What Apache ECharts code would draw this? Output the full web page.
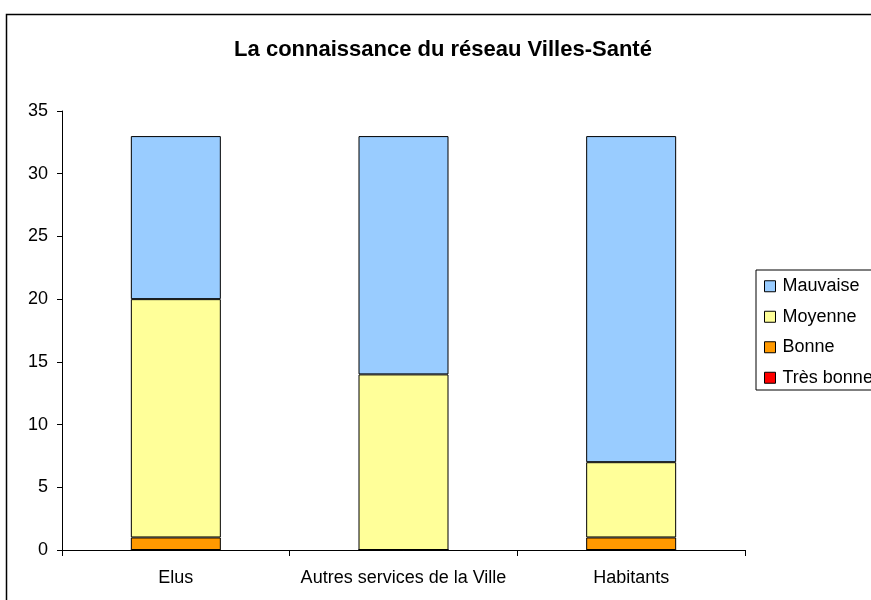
<!DOCTYPE html>
<html><head><meta charset="utf-8">
<script src="https://cdn.jsdelivr.net/npm/echarts@6/dist/echarts.min.js"></script>
<style>html,body{margin:0;padding:0;background:#fff}#c{width:871px;height:600px}</style>
</head><body><div id="c"></div>
<script>
const categories = ['Elus', 'Autres services de la Ville', 'Habitants'];
const tresBonne = [0, 0, 0];
const bonne = [1, 0, 1];
const moyenne = [19, 14, 6];
const mauvaise = [13, 19, 26];
const yTicks = [0, 5, 10, 15, 20, 25, 30, 35];

const chart = echarts.init(document.getElementById('c'));
const font = 'Liberation Sans, Arial, sans-serif';
function s(name, data, color) {
  return { name, type: 'bar', stack: 'a', data, barWidth: 90,
    itemStyle: { color, borderColor: '#000', borderWidth: 1 },
    emphasis: { disabled: true } };
}
chart.setOption({
  animation: false,
  textStyle: { fontFamily: font },
  title: { text: 'La connaissance du réseau Villes-Santé', left: 438, textAlign: 'center', top: 34,
    textStyle: { fontSize: 22, fontWeight: 'bold', color: '#000', fontFamily: font } },
  graphic: [{ type: 'rect', shape: { x: 6.5, y: 14.5, width: 1000, height: 800 },
    style: { fill: 'none', stroke: '#000', lineWidth: 1.5 }, silent: true }],
  legend: { orient: 'vertical', left: 756, top: 270, padding: [7, 40, 3, 8], itemGap: 12,
    icon: 'rect', itemWidth: 11, itemHeight: 11, borderColor: '#000', borderWidth: 1, backgroundColor: '#fff',
    data: ['Mauvaise', 'Moyenne', 'Bonne', 'Très bonne'],
    textStyle: { fontSize: 18, lineHeight: 18.5, color: '#000', fontFamily: font, padding: [0, 0, 0, 2] },
    itemStyle: { borderColor: '#000', borderWidth: 1 } },
  grid: { left: 62, right: 126, top: 111, bottom: 50, containLabel: false },
  xAxis: { type: 'category', data: categories,
    axisLine: { lineStyle: { color: '#000', width: 1 } },
    axisTick: { show: true, interval: 0, length: 6, lineStyle: { color: '#000' } },
    axisLabel: { color: '#000', fontSize: 18, margin: 19, interval: 0, fontFamily: font } },
  yAxis: { type: 'value', min: 0, max: 35, interval: 5,
    axisLine: { show: true, lineStyle: { color: '#000', width: 1 } },
    axisTick: { show: true, length: 5, lineStyle: { color: '#000' } },
    splitLine: { show: false },
    axisLabel: { color: '#000', fontSize: 18, margin: 14, fontFamily: font,
      formatter: v => yTicks.includes(v) ? String(v) : '' } },
  series: [
    s('Très bonne', tresBonne, '#FF0000'),
    s('Bonne', bonne, '#FF9900'),
    s('Moyenne', moyenne, '#FFFF99'),
    s('Mauvaise', mauvaise, '#99CCFF')
  ]
});
</script></body></html>
